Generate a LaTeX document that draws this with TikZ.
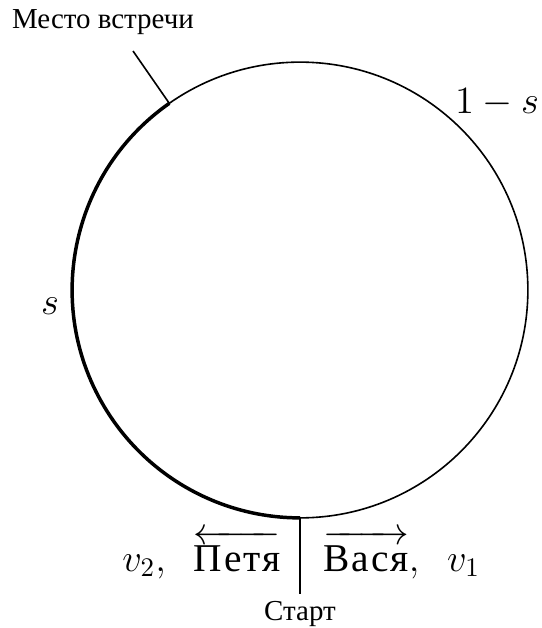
\documentclass[tikz,border=0pt]{standalone}
\usepackage{fontspec}
\newfontfamily\cyr{Liberation Serif}[Scale=1.08]
\newfontfamily\cyrbig{Liberation Serif}[Scale=1.02,LetterSpace=5]
\usetikzlibrary{calc}
\tikzset{
  thinline/.style={draw=black,line width=0.6pt},
  thickline/.style={draw=black,line width=1.3pt},
  smalltext/.style={font=\cyr\fontsize{10}{12}\selectfont,inner sep=0pt},
  bigtext/.style={font=\Large,inner sep=0pt}
}
\begin{document}
\begin{tikzpicture}[x=0.373pt,y=-0.373pt]
\useasboundingbox (0,0) rectangle (542,628);
\coordinate (O) at (300,290);
\draw[thinline] (O) circle[radius=85pt];
\coordinate (M) at ($(O)+(125:85pt)$);
\coordinate (S) at ($(O)+(270:85pt)$);
\draw[thickline] (M) arc[start angle=125,end angle=270,radius=85pt];
\coordinate (P) at (133,51);
\draw[thinline] (P) -- (M);
\node[smalltext] (meet) at (103,22) {Место встречи};
\coordinate (E) at (300,594);
\draw[thinline] (S) -- (E);
\node[smalltext,anchor=north] (start) at (300,601) {Старт};
\node[bigtext] (oms) at (497,103) {$1-s$};
\node[bigtext] (s) at (50,306) {$s$};
\node[bigtext,anchor=base east] (left) at (281,571) {$v_2,\;\;\overleftarrow{\mbox{\cyrbig\rule{0pt}{0.74em}Петя}}$};
\node[bigtext,anchor=base west] (right) at (323,571) {$\overrightarrow{\mbox{\cyrbig\rule{0pt}{0.74em}Вася}},\;\;v_1$};
\end{tikzpicture}
\end{document}
